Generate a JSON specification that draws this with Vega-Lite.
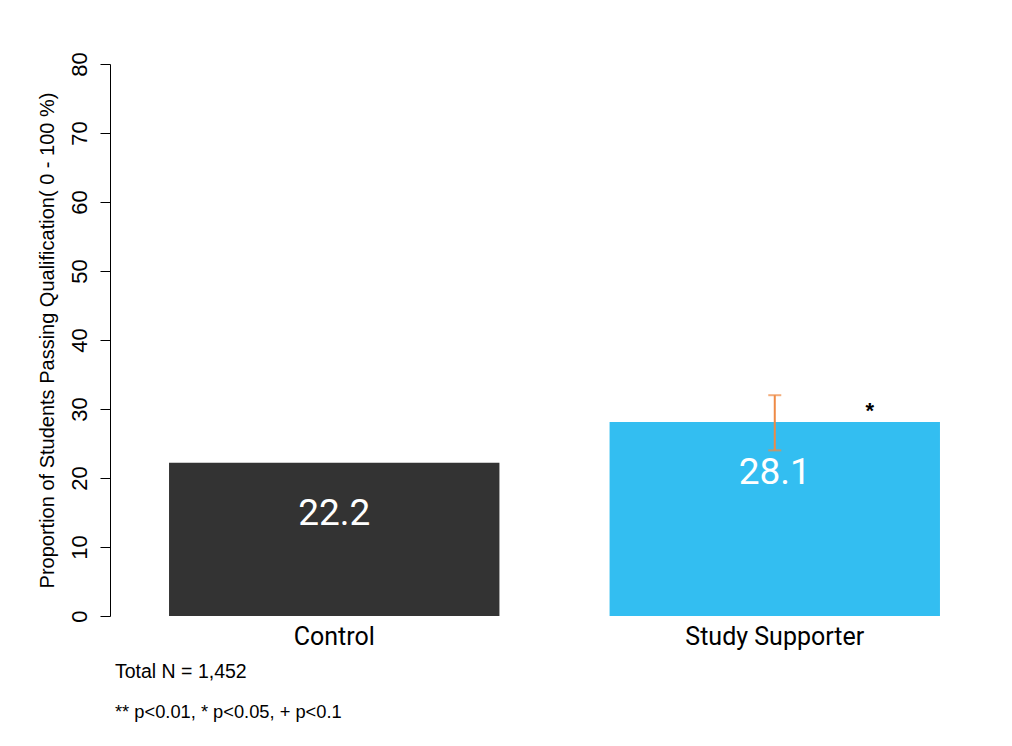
{
  "$schema": "https://vega.github.io/schema/vega-lite/v6.json",
  "width": 889,
  "height": 552,
  "autosize": {"type": "none"},
  "padding": {"left": 110, "top": 64, "right": 13, "bottom": 130},
  "background": "white",
  "config": {"view": {"stroke": null}},
  "data": {
    "values": [
      {"group": "Control", "value": 22.2, "lower": null, "upper": null, "sig": ""},
      {"group": "Study Supporter", "value": 28.1, "lower": 24.0, "upper": 32.0, "sig": "*"}
    ]
  },
  "title": {
    "text": "Total N = 1,452",
    "subtitle": "** p<0.01, * p<0.05, + p<0.1",
    "orient": "bottom",
    "anchor": "start",
    "frame": "group",
    "font": "Liberation Sans",
    "fontSize": 19.5,
    "fontWeight": "normal",
    "color": "black",
    "subtitleFont": "Liberation Sans",
    "subtitleFontSize": 18.3,
    "subtitleColor": "black",
    "subtitlePadding": 21,
    "offset": 14,
    "dx": 5
  },
  "encoding": {
    "x": {
      "field": "group",
      "type": "nominal",
      "sort": null,
      "scale": {"paddingInner": 0.25, "paddingOuter": 0.134},
      "axis": {
        "title": null,
        "domain": false,
        "ticks": false,
        "labelAngle": 0,
        "labelFont": "Roboto",
        "labelFontSize": 25,
        "labelColor": "black",
        "labelPadding": 8
      }
    }
  },
  "layer": [
    {
      "mark": {"type": "bar"},
      "encoding": {
        "y": {
          "field": "value",
          "type": "quantitative",
          "title": "Proportion of Students Passing Qualification( 0 - 100 %)",
          "scale": {"domain": [0, 80], "nice": false},
          "axis": {
            "titleFont": "Liberation Sans",
            "titleFontSize": 20,
            "titleFontWeight": "normal",
            "titleColor": "black",
            "titlePadding": 11,
            "values": [0, 10, 20, 30, 40, 50, 60, 70, 80],
            "grid": false,
            "domainColor": "black",
            "tickColor": "black",
            "tickSize": 10,
            "labelAngle": -90,
            "labelAlign": "center",
            "labelBaseline": "bottom",
            "labelFont": "Liberation Sans",
            "labelFontSize": 22,
            "labelColor": "black",
            "labelPadding": 9
          }
        },
        "color": {
          "field": "group",
          "type": "nominal",
          "scale": {"domain": ["Control", "Study Supporter"], "range": ["#333333", "#33BEF1"]},
          "legend": null
        }
      }
    },
    {
      "transform": [{"filter": "datum.lower != null"}],
      "mark": {"type": "errorbar", "color": "#EE8A45", "thickness": 2, "ticks": {"size": 13, "thickness": 2, "color": "#EE8A45"}},
      "encoding": {
        "y": {"field": "lower", "type": "quantitative", "title": "Proportion of Students Passing Qualification( 0 - 100 %)"},
        "y2": {"field": "upper"}
      }
    },
    {
      "mark": {"type": "text", "color": "white", "font": "Roboto", "fontSize": 37, "baseline": "middle", "dy": 51},
      "encoding": {
        "y": {"field": "value", "type": "quantitative", "title": "Proportion of Students Passing Qualification( 0 - 100 %)"},
        "text": {"field": "value", "type": "quantitative", "format": ".1f"}
      }
    },
    {
      "transform": [{"filter": "datum.sig != ''"}],
      "mark": {"type": "text", "color": "black", "font": "Liberation Sans", "fontSize": 22, "fontWeight": "bold", "baseline": "middle", "dx": 95, "dy": 16},
      "encoding": {
        "y": {"field": "upper", "type": "quantitative", "title": "Proportion of Students Passing Qualification( 0 - 100 %)"},
        "text": {"field": "sig", "type": "nominal"}
      }
    }
  ]
}
